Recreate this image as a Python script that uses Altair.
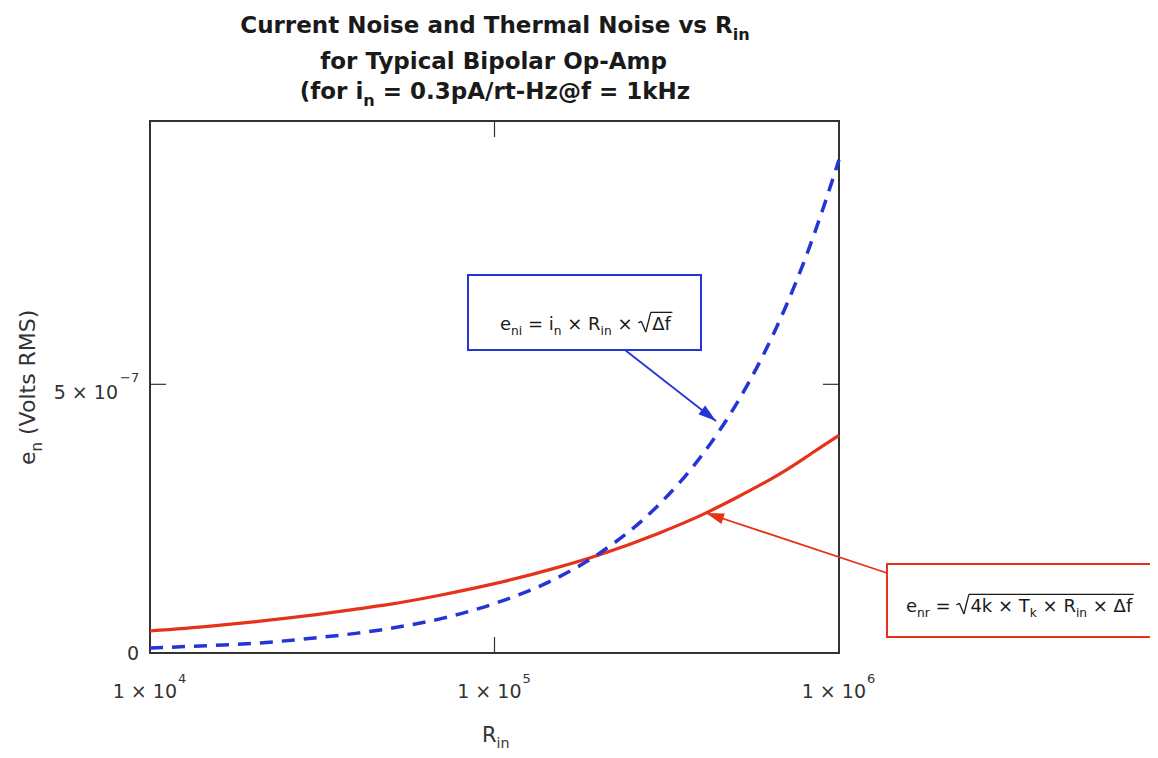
import math
import altair as alt
import pandas as pd

# ---------------- data ----------------
R_IN = [1e4, 1.5e4, 2e4, 3e4, 4e4, 5e4, 7e4, 1e5, 1.5e5, 2e5, 3e5, 4e5,
        5e5, 6e5, 7e5, 8e5, 9e5, 1e6]
# current noise e_ni (blue, dashed), volts RMS
E_NI = [0.092e-7, 0.14e-7, 0.18e-7, 0.28e-7, 0.37e-7, 0.46e-7, 0.64e-7,
        0.92e-7, 1.38e-7, 1.84e-7, 2.76e-7, 3.68e-7, 4.60e-7, 5.52e-7,
        6.44e-7, 7.36e-7, 8.28e-7, 9.18e-7]
# thermal noise e_nr (red, solid), volts RMS
E_NR = [0.41e-7, 0.50e-7, 0.58e-7, 0.71e-7, 0.82e-7, 0.91e-7, 1.08e-7,
        1.29e-7, 1.58e-7, 1.82e-7, 2.23e-7, 2.57e-7, 2.88e-7, 3.15e-7,
        3.40e-7, 3.64e-7, 3.86e-7, 4.05e-7]
X_TICKS = [1e4, 1e5, 1e6]
X_TICK_MAIN = ["1 × 10", "1 × 10", "1 × 10"]
X_TICK_EXP = ["4", "5", "6"]
Y_TICK_MID = 5e-7

# ---------------- layout / style ----------------
W, H = 689, 532
Y_MAX = 9.9e-7
FONT = "DejaVu Sans"
BLUE = "#2435d6"
RED = "#e5331b"
TXT = "#333333"
BLACK = "#1a1a1a"

REG = {' ': 318, '(': 390, ')': 390, '=': 838, '×': 838, '−': 838, '.': 318,
       '/': 337, '-': 361, '@': 1000, '√': 640, 'Δ': 684, 'A': 684, 'C': 698,
       'H': 752, 'M': 863, 'R': 695, 'S': 635, 'T': 611, 'V': 684, 'k': 579,
       'a': 613, 'e': 615, 'f': 352, 'i': 278, 'l': 278, 'n': 634, 'o': 612,
       'r': 411, 's': 521, 't': 392, 'p': 635, 'm': 974, 'c': 550, 'd': 635,
       'u': 634, 'z': 525, 'h': 634, 'v': 592, 'y': 592}
BOLD = {' ': 348, '(': 457, ')': 457, '=': 838, '.': 380, '/': 365, '-': 415,
        '@': 1000, 'A': 774, 'B': 762, 'C': 734, 'H': 837, 'N': 837, 'O': 850,
        'R': 770, 'T': 682, 'P': 733, 'a': 675, 'c': 593, 'd': 716, 'e': 678,
        'f': 435, 'h': 712, 'i': 343, 'k': 665, 'l': 343, 'm': 1042, 'n': 712,
        'o': 687, 'p': 716, 'r': 493, 's': 595, 't': 478, 'u': 712, 'v': 652,
        'y': 652, 'z': 582}


def tw(s, size, bold=False):
    tab = BOLD if bold else REG
    digit = 696 if bold else 636
    return sum(tab.get(ch, digit if ch.isdigit() else 600) for ch in s) / 1000.0 * size


def chain(segments, x0, y0, size, bold=False, color=BLACK, anchor="left", sub=0.68):
    """Lay out text pieces with sub/superscripts; returns rows and end x."""
    def sz(kind):
        return size * sub if kind in ("sub", "sup") else size
    total = sum(tw(t, sz(k), bold) for t, k in segments)
    x = x0 - total / 2 if anchor == "center" else x0
    rows = []
    for t, k in segments:
        s = sz(k)
        dy = 0.30 * size if k == "sub" else (-0.45 * size if k == "sup" else 0)
        lead = len(t) - len(t.lstrip(" "))
        body = t.strip(" ")
        if body:
            rows.append(dict(t=body, px=x + tw(" " * lead, s, bold), py=y0 + dy,
                             sz=s, col=color))
        x += tw(t, s, bold)
    return rows, x


# ---------------- curves ----------------
df_ni = pd.DataFrame({"R": R_IN, "V": E_NI})
df_nr = pd.DataFrame({"R": R_IN, "V": E_NR})
xs = alt.Scale(type="log", domain=[1e4, 1e6], nice=False)
ys = alt.Scale(domain=[0, Y_MAX], nice=False, zero=False)

thermal = alt.Chart(df_nr).mark_line(color=RED, strokeWidth=3.2, interpolate="monotone").encode(
    x=alt.X("R:Q", scale=xs, axis=None), y=alt.Y("V:Q", scale=ys, axis=None))
current = alt.Chart(df_ni).mark_line(color=BLUE, strokeWidth=3.5, strokeDash=[13, 9],
                                     interpolate="monotone").encode(
    x=alt.X("R:Q", scale=xs, axis=None), y=alt.Y("V:Q", scale=ys, axis=None))

# ---------------- ticks (inward, MATLAB style) ----------------
TL = 16
df_xt = pd.DataFrame({"R": [1e5]})
df_yt = pd.DataFrame({"V": [Y_TICK_MID]})
tick_b = alt.Chart(df_xt).mark_rule(color="#333", strokeWidth=1.2).encode(
    x=alt.X("R:Q", scale=xs, axis=None), y=alt.value(H), y2=alt.value(H - TL))
tick_t = alt.Chart(df_xt).mark_rule(color="#333", strokeWidth=1.2).encode(
    x=alt.X("R:Q", scale=xs, axis=None), y=alt.value(0), y2=alt.value(TL))
tick_l = alt.Chart(df_yt).mark_rule(color="#333", strokeWidth=1.2).encode(
    y=alt.Y("V:Q", scale=ys, axis=None), x=alt.value(0), x2=alt.value(TL))
tick_r = alt.Chart(df_yt).mark_rule(color="#333", strokeWidth=1.2).encode(
    y=alt.Y("V:Q", scale=ys, axis=None), x=alt.value(W - TL), x2=alt.value(W))

# ---------------- tick labels ----------------
df_xl = pd.DataFrame({"R": X_TICKS, "main": X_TICK_MAIN, "exp": X_TICK_EXP})
xl_main = alt.Chart(df_xl).mark_text(font=FONT, fontSize=19, color=TXT, align="right",
                                     baseline="alphabetic", dx=27).encode(
    x=alt.X("R:Q", scale=xs, axis=None), y=alt.value(H + 45), text="main:N")
xl_exp = alt.Chart(df_xl).mark_text(font=FONT, fontSize=13, color=TXT, align="left",
                                    baseline="alphabetic", dx=28).encode(
    x=alt.X("R:Q", scale=xs, axis=None), y=alt.value(H + 30), text="exp:N")

df_y0 = pd.DataFrame({"V": [0.0], "t": ["0"]})
df_y5 = pd.DataFrame({"V": [Y_TICK_MID], "t": ["5 × 10"], "e": ["−7"]})
yl0 = alt.Chart(df_y0).mark_text(font=FONT, fontSize=19, color=TXT, align="right",
                                 baseline="middle", dy=1).encode(
    y=alt.Y("V:Q", scale=ys, axis=None), x=alt.value(-11), text="t:N")
yl5 = alt.Chart(df_y5).mark_text(font=FONT, fontSize=19, color=TXT, align="right",
                                 baseline="alphabetic", dy=15).encode(
    y=alt.Y("V:Q", scale=ys, axis=None), x=alt.value(-32), text="t:N")
yl5e = alt.Chart(df_y5).mark_text(font=FONT, fontSize=13, color=TXT, align="left",
                                  baseline="alphabetic", dy=-2).encode(
    y=alt.Y("V:Q", scale=ys, axis=None), x=alt.value(-30), text="e:N")

# ---------------- texts placed in pixels (titles, formulas) ----------------
bold_rows = []
for segs, base in [([("Current Noise and Thermal Noise vs R", "n"), ("in", "sub")], -88),
                   ([("for Typical Bipolar Op-Amp", "n")], -52),
                   ([("(for i", "n"), ("n", "sub"), (" = 0.3pA/rt-Hz@f = 1kHz", "n")], -22)]:
    r, _ = chain(segs, 345, base, 23, bold=True, color=BLACK, anchor="center", sub=0.7)
    bold_rows += r

reg_rows = []
# x axis title
r, _ = chain([("R", "n"), ("in", "sub")], 332, H + 89, 21, color=TXT)
reg_rows += r

one = pd.DataFrame({"a": [0]})


def seg(x1, y1, x2, y2, col, w):
    return alt.Chart(one).mark_rule(color=col, strokeWidth=w).encode(
        x=alt.value(x1), x2=alt.value(x2), y=alt.value(y1), y2=alt.value(y2))


def radical(x0, base, size):
    """Radical sign strokes; returns (start x of radicand, function making the strokes)."""
    top = base - 0.98 * size
    p = [(x0, base - 0.40 * size), (x0 + 3, base - 0.48 * size),
         (x0 + 7.5, base + 2), (x0 + 12.5, top)]
    start = x0 + 14

    def strokes(end):
        pts = p + [(end + 1.5, top)]
        return [seg(a[0], a[1], b[0], b[1], BLACK, 1.3) for a, b in zip(pts[:-1], pts[1:])]
    return start, strokes


FS = 18
# blue formula
bx0, bbase = 350, 209
r, xb = chain([("e", "n"), ("ni", "sub"), (" = ", "n"), ("i", "n"), ("n", "sub"),
               (" × ", "n"), ("R", "n"), ("in", "sub"), (" × ", "n")], bx0, bbase, FS)
reg_rows += r
sb, strokes_b = radical(xb, bbase, FS)
r, xb_end = chain([("Δf", "n")], sb, bbase, FS)
reg_rows += r
rad_b = strokes_b(xb_end)

# red formula
rx0, rbase = 756, 491
r, xr = chain([("e", "n"), ("nr", "sub"), (" = ", "n")], rx0, rbase, FS)
reg_rows += r
sr, strokes_r = radical(xr, rbase, FS)
r, xr_end = chain([("4k × T", "n"), ("k", "sub"), (" × R", "n"), ("in", "sub"), (" × Δf", "n")],
                  sr, rbase, FS)
reg_rows += r
rad_r = strokes_r(xr_end)

df_bold = pd.DataFrame(bold_rows)
df_reg = pd.DataFrame(reg_rows)


def text_layer(df, weight):
    return alt.Chart(df).mark_text(font=FONT, fontWeight=weight, align="left",
                                   baseline="alphabetic").encode(
        x=alt.X("px:Q", scale=None, axis=None),
        y=alt.Y("py:Q", scale=None, axis=None),
        text="t:N",
        size=alt.Size("sz:Q", scale=None, legend=None),
        color=alt.Color("col:N", scale=None, legend=None))


titles = text_layer(df_bold, "bold")
regular = text_layer(df_reg, "normal")

# y axis title (rotated)
YT = 22
ye_x, ye_y = -115, 344
w_e = tw("e", YT)
w_n = tw("n", YT * 0.68)
ytitle = [
    alt.Chart(pd.DataFrame({"t": ["e"]})).mark_text(font=FONT, fontSize=YT, color=TXT, angle=270,
                                                     align="left", baseline="alphabetic").encode(
        x=alt.value(ye_x), y=alt.value(ye_y), text="t:N"),
    alt.Chart(pd.DataFrame({"t": ["n"]})).mark_text(font=FONT, fontSize=YT * 0.68, color=TXT, angle=270,
                                                     align="left", baseline="alphabetic").encode(
        x=alt.value(ye_x + 0.30 * YT), y=alt.value(ye_y - w_e), text="t:N"),
    alt.Chart(pd.DataFrame({"t": ["(Volts RMS)"]})).mark_text(font=FONT, fontSize=YT, color=TXT, angle=270,
                                                               align="left", baseline="alphabetic").encode(
        x=alt.value(ye_x), y=alt.value(ye_y - w_e - w_n - tw(" ", YT)), text="t:N"),
]

# ---------------- annotation boxes and arrows ----------------


def box(x1, x2, y1, y2, col):
    return alt.Chart(one).mark_rect(fillOpacity=0, stroke=col, strokeWidth=2).encode(
        x=alt.value(x1), x2=alt.value(x2), y=alt.value(y1), y2=alt.value(y2))


def head(xt, yt, xf, yf, col):
    ang = math.degrees(math.atan2(xt - xf, -(yt - yf))) % 360
    return alt.Chart(one).mark_point(shape="M0,0 L-0.55,1.8 L0.55,1.8 Z", filled=True,
                                     fill=col, color=col, opacity=1, size=400,
                                     angle=ang).encode(x=alt.value(xt), y=alt.value(yt))


blue_box = box(318, 551, 154, 229, BLUE)
red_box = box(737, 1100, 443, 516, RED)
arrow_b = seg(475, 229, 566, 300, BLUE, 1.8)
head_b = head(566, 300, 475, 229, BLUE)
arrow_r = seg(737, 452, 556, 392, RED, 1.8)
head_r = head(556, 392, 737, 452, RED)

chart = alt.layer(
    thermal, current, tick_b, tick_t, tick_l, tick_r,
    xl_main, xl_exp, yl0, yl5, yl5e,
    blue_box, red_box, arrow_b, head_b, arrow_r, head_r,
    *rad_b, *rad_r,
    titles, regular, *ytitle,
).properties(
    width=W, height=H,
    padding={"left": 142, "top": 113, "right": 311, "bottom": 97},
    autosize=alt.AutoSizeParams(type="none"),
    background="white",
).configure_view(stroke="#333333", strokeWidth=2)

chart.save("out.html", embed_options={"renderer": "svg", "actions": False})
